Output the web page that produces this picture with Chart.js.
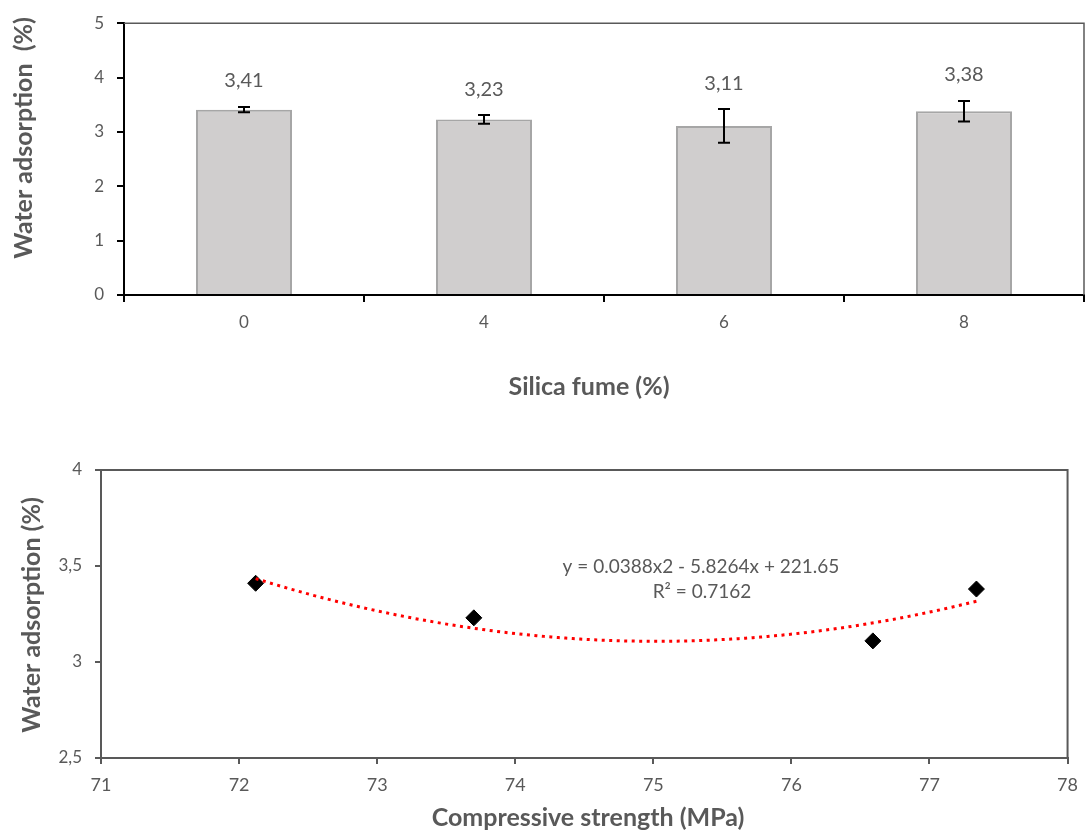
<!DOCTYPE html>
<html>
<head>
<meta charset="utf-8">
<script src="https://cdn.jsdelivr.net/npm/chart.js@4.4.0/dist/chart.umd.min.js"></script>
<style>
    body { margin: 0; background: #FFF; }
    #caixa1 { position: absolute; left: 0; top: 0; width: 1088px; height: 420px; }
    #caixa2 { position: absolute; left: 0; top: 430px; width: 1088px; height: 406px; }
</style>
</head>
<body>
<div id="caixa1"><canvas id="graficoBarras"></canvas></div>
<div id="caixa2"><canvas id="graficoDispersao"></canvas></div>
<script>
// grafico 1 - absorcao por teor de silica
var silica = ['0', '4', '6', '8'];
var absorcao = [3.41, 3.23, 3.11, 3.38];
var desvio = [0.05, 0.08, 0.31, 0.19];
var ticksY1 = [0, 1, 2, 3, 4, 5];

// grafico 2 - absorcao x resistencia
var resistencia = [72.12, 73.70, 76.59, 77.34];
var absorcao2 = [3.41, 3.23, 3.11, 3.38];
var ticksX2 = [71, 72, 73, 74, 75, 76, 77, 78];
var ticksY2 = [2.5, 3, 3.5, 4];
var equacao = 'y = 0.0388x2 - 5.8264x + 221.65';
var r2 = 'R² = 0.7162';

var cinza = '#595959';
var fonte = 'Lato';

function virgula(v) {
    return String(v).replace('.', ',');
}

// linha de tendencia polinomial (grau 2) por minimos quadrados
function ajustePolinomial(xs, ys) {
    var m = 75;
    var s = [0, 0, 0, 0, 0], t = [0, 0, 0];
    for (var i = 0; i < xs.length; i++) {
        var x = xs[i] - m;
        for (var k = 0; k < 5; k++) s[k] += Math.pow(x, k);
        for (var k = 0; k < 3; k++) t[k] += ys[i] * Math.pow(x, k);
    }
    var A = [[s[0], s[1], s[2], t[0]], [s[1], s[2], s[3], t[1]], [s[2], s[3], s[4], t[2]]];
    for (var c = 0; c < 3; c++) {
        for (var r = c + 1; r < 3; r++) {
            var f = A[r][c] / A[c][c];
            for (var k = c; k < 4; k++) A[r][k] -= f * A[c][k];
        }
    }
    var coef = [0, 0, 0];
    for (var r = 2; r >= 0; r--) {
        var soma = A[r][3];
        for (var k = r + 1; k < 3; k++) soma -= A[r][k] * coef[k];
        coef[r] = soma / A[r][r];
    }
    return function (x) {
        var d = x - m;
        return coef[0] + coef[1] * d + coef[2] * d * d;
    };
}

var curva = ajustePolinomial(resistencia, absorcao2);
var xMin = Math.min.apply(null, resistencia);
var xMax = Math.max.apply(null, resistencia);
var tendencia = [];
for (var i = 0; i <= 100; i++) {
    var xv = xMin + (xMax - xMin) * i / 100;
    tendencia.push({ x: xv, y: curva(xv) });
}
var pontos = resistencia.map(function (x, i) { return { x: x, y: absorcao2[i] }; });

function tituloEixo(ctx, texto, x, y, rotacao) {
    ctx.save();
    ctx.translate(x, y);
    if (rotacao) ctx.rotate(-Math.PI / 2);
    ctx.fillStyle = cinza;
    ctx.font = 'bold 25px ' + fonte;
    ctx.textAlign = 'center';
    ctx.textBaseline = 'middle';
    ctx.fillText(texto, 0, 0);
    ctx.restore();
}

const extrasBarras = {
    id: 'extrasBarras',
    afterDraw(chart) {
        const ctx = chart.ctx;
        const area = chart.chartArea;
        const escalaY = chart.scales.y;
        const meta = chart.getDatasetMeta(0);
        ctx.save();
        // borda de cima e da direita
        ctx.strokeStyle = cinza;
        ctx.lineWidth = 1.5;
        ctx.beginPath();
        ctx.moveTo(area.left, area.top);
        ctx.lineTo(area.right, area.top);
        ctx.lineTo(area.right, area.bottom);
        ctx.stroke();

        // barras de erro e rotulos
        meta.data.forEach(function (barra, i) {
            var topo = escalaY.getPixelForValue(absorcao[i] + desvio[i]);
            var base = escalaY.getPixelForValue(absorcao[i] - desvio[i]);
            ctx.strokeStyle = '#000';
            ctx.lineWidth = 2;
            ctx.beginPath();
            ctx.moveTo(barra.x, topo);
            ctx.lineTo(barra.x, base);
            ctx.moveTo(barra.x - 6, topo);
            ctx.lineTo(barra.x + 6, topo);
            ctx.moveTo(barra.x - 6, base);
            ctx.lineTo(barra.x + 6, base);
            ctx.stroke();

            ctx.fillStyle = cinza;
            ctx.font = '20px ' + fonte;
            ctx.textAlign = 'center';
            ctx.textBaseline = 'middle';
            ctx.fillText(virgula(absorcao[i]), barra.x, topo - 26);
        });
        ctx.restore();

        tituloEixo(ctx, 'Water adsorption  (%)', 24, 138, true);
        tituloEixo(ctx, 'Silica fume (%)', 589, 387, false);
    }
};

const extrasDispersao = {
    id: 'extrasDispersao',
    afterDraw(chart) {
        const ctx = chart.ctx;
        const area = chart.chartArea;
        ctx.save();
        ctx.strokeStyle = cinza;
        ctx.lineWidth = 2;
        ctx.beginPath();
        ctx.moveTo(area.left, area.top);
        ctx.lineTo(area.right, area.top);
        ctx.lineTo(area.right, area.bottom);
        ctx.stroke();

        ctx.fillStyle = cinza;
        ctx.font = '19px ' + fonte;
        ctx.textAlign = 'center';
        ctx.textBaseline = 'middle';
        ctx.fillText(equacao, 701, 137);
        ctx.fillText(r2, 702, 162);
        ctx.restore();

        tituloEixo(ctx, 'Water adsorption (%)', 32, 185, true);
        tituloEixo(ctx, 'Compressive strength (MPa)', 588, 388, false);
    }
};

const config1 = {
    type: 'bar',
    data: {
        labels: silica,
        datasets: [{
            data: absorcao,
            backgroundColor: '#D0CECE',
            borderColor: '#A6A6A6',
            borderWidth: 2,
            categoryPercentage: 1,
            barPercentage: 0.40
        }]
    },
    options: {
        responsive: true,
        maintainAspectRatio: false,
        animation: false,
        layout: {
            padding: { top: 18, right: 4, left: 0, bottom: 0 }
        },
        plugins: {
            legend: { display: false },
            tooltip: { enabled: false }
        },
        scales: {
            x: {
                grid: {
                    offset: true,
                    drawOnChartArea: false,
                    tickLength: 7,
                    color: '#000',
                    lineWidth: 2
                },
                border: { color: '#000', width: 2 },
                ticks: {
                    color: cinza,
                    font: { family: fonte, size: 17 },
                    padding: 10
                },
                afterFit: function (escala) { escala.height = 125; }
            },
            y: {
                min: 0,
                max: 5,
                afterBuildTicks: function (escala) {
                    escala.ticks = ticksY1.map(function (v) { return { value: v }; });
                },
                grid: {
                    drawOnChartArea: false,
                    tickLength: 7,
                    color: '#000',
                    lineWidth: 2
                },
                border: { color: '#000', width: 2 },
                ticks: {
                    color: cinza,
                    font: { family: fonte, size: 17 },
                    padding: 13
                },
                afterFit: function (escala) { escala.width = 124; }
            }
        }
    },
    plugins: [extrasBarras]
};

const config2 = {
    type: 'scatter',
    data: {
        datasets: [{
            type: 'scatter',
            data: pontos,
            pointStyle: 'rectRot',
            pointRadius: 8,
            backgroundColor: '#000',
            borderColor: '#000',
            borderWidth: 1,
            order: 1
        }, {
            type: 'line',
            data: tendencia,
            borderColor: '#FF0000',
            borderWidth: 3,
            borderDash: [3, 4.5],
            borderCapStyle: 'butt',
            pointRadius: 0,
            fill: false,
            tension: 0,
            order: 0
        }]
    },
    options: {
        responsive: true,
        maintainAspectRatio: false,
        animation: false,
        layout: {
            padding: { top: 40, right: 14, left: 0, bottom: 0 }
        },
        plugins: {
            legend: { display: false },
            tooltip: { enabled: false }
        },
        scales: {
            x: {
                type: 'linear',
                min: 71,
                max: 78,
                afterBuildTicks: function (escala) {
                    escala.ticks = ticksX2.map(function (v) { return { value: v }; });
                },
                grid: {
                    drawOnChartArea: false,
                    tickLength: 6,
                    color: cinza,
                    lineWidth: 2
                },
                border: { color: cinza, width: 2 },
                ticks: {
                    color: cinza,
                    font: { family: fonte, size: 18 },
                    padding: 10
                },
                afterFit: function (escala) { escala.height = 78; }
            },
            y: {
                min: 2.5,
                max: 4,
                afterBuildTicks: function (escala) {
                    escala.ticks = ticksY2.map(function (v) { return { value: v }; });
                },
                grid: {
                    drawOnChartArea: false,
                    tickLength: 6,
                    color: cinza,
                    lineWidth: 2
                },
                border: { color: cinza, width: 2 },
                ticks: {
                    color: cinza,
                    font: { family: fonte, size: 17 },
                    padding: 13,
                    callback: function (v) { return virgula(v); }
                },
                afterFit: function (escala) { escala.width = 101; }
            }
        }
    },
    plugins: [extrasDispersao]
};

let graficoBarras = new Chart(document.getElementById('graficoBarras'), config1);
let graficoDispersao = new Chart(document.getElementById('graficoDispersao'), config2);
</script>
</body>
</html>
